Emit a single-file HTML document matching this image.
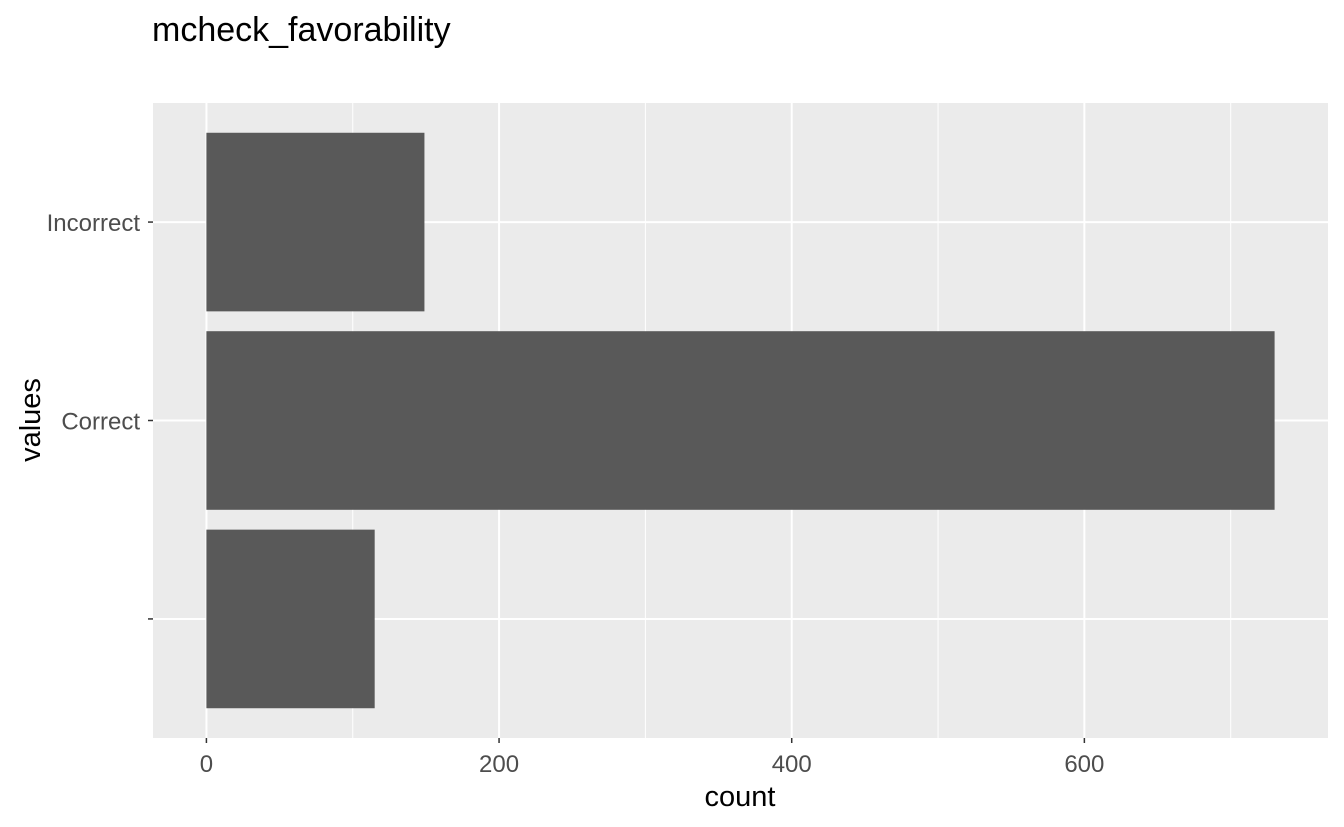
<!DOCTYPE html>
<html><head><meta charset="utf-8"><style>
body{margin:0;background:#fff;}
svg{display:block;font-family:"Liberation Sans",Arial,sans-serif;}
</style></head><body>
<svg id="chart" width="1344" height="827">
<text x="152" y="41" font-size="34" fill="#000">mcheck_favorability</text>
<rect x="153" y="103" width="1175" height="635" fill="#ebebeb"/>
<g id="grid"></g><g id="bars"></g><g id="axes"></g>
<text x="740" y="806" font-size="29" text-anchor="middle" fill="#000">count</text>
<text transform="translate(40,420) rotate(-90)" font-size="29" text-anchor="middle" fill="#000">values</text>
</svg>
<script>
const categories = ["", "Correct", "Incorrect"];
const counts = [115, 730, 149];
const xTicks = [0, 200, 400, 600];
const xMinorTicks = [100, 300, 500, 700];

const NS = "http://www.w3.org/2000/svg";
const L = 153, R = 1328, T = 103, B = 738;
const maxV = Math.max(...counts);
const xMin = -maxV * 0.05, xMax = maxV * 1.05;
const x = v => L + (v - xMin) / (xMax - xMin) * (R - L);
const yLo = 0.4, yHi = categories.length + 0.6;
const y = i => B - ((i + 1) - yLo) / (yHi - yLo) * (B - T);
const unit = (B - T) / (yHi - yLo);

function mk(tag, attrs, parent) {
  const e = document.createElementNS(NS, tag);
  for (const k in attrs) e.setAttribute(k, attrs[k]);
  parent.appendChild(e);
  return e;
}
const grid = document.getElementById("grid"), bars = document.getElementById("bars"), axes = document.getElementById("axes");

xMinorTicks.forEach(v => {
  if (x(v) > R) return;
  const l = mk("line", {x1: x(v), x2: x(v), y1: T, y2: B, stroke: "#fff", "stroke-width": 1}, grid);
  
  
});
xTicks.forEach(v => {
  const l = mk("line", {x1: x(v), x2: x(v), y1: T, y2: B, stroke: "#fff", "stroke-width": 2}, grid);
  
  
  const t = mk("line", {x1: x(v), x2: x(v), y1: B, y2: B + 5, stroke: "#333", "stroke-width": 1.5}, axes);
  
  
  const tx = mk("text", {x: x(v), y: B + 34, "font-size": 24, "text-anchor": "middle", fill: "#4d4d4d"}, axes);
  tx.textContent = v;
  
  
});
categories.forEach((c, i) => {
  const l = mk("line", {x1: L, x2: R, y1: y(i), y2: y(i), stroke: "#fff", "stroke-width": 2}, grid);
  
  
  const t = mk("line", {x1: L - 5, x2: L, y1: y(i), y2: y(i), stroke: "#333", "stroke-width": 1.5}, axes);
  
  
  const tx = mk("text", {x: L - 13, y: y(i) + 9, "font-size": 24, "text-anchor": "end", fill: "#4d4d4d"}, axes);
  tx.textContent = c;
  
  
  const h = unit * 0.9;
  const b = mk("rect", {x: x(0), y: y(i) - h / 2, width: x(counts[i]) - x(0), height: h, fill: "#595959"}, bars);
  
  
});
</script>
</body></html>
